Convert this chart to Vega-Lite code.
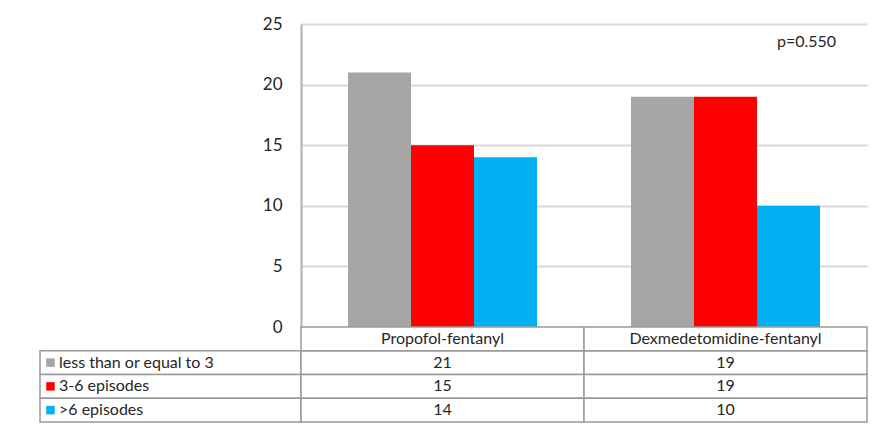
{
  "$schema": "https://vega.github.io/schema/vega-lite/v6.json",
  "background": "white",
  "padding": {"left": 39, "top": 15, "right": 12, "bottom": 6},
  "config": {
    "view": {"stroke": null},
    "font": "Lato",
    "text": {"font": "Lato", "color": "#262626"}
  },
  "datasets": {
    "counts": [
      {"treatment": "Propofol-fentanyl", "episodes": "less than or equal to 3", "patients": 21},
      {"treatment": "Propofol-fentanyl", "episodes": "3-6 episodes", "patients": 15},
      {"treatment": "Propofol-fentanyl", "episodes": ">6 episodes", "patients": 14},
      {"treatment": "Dexmedetomidine-fentanyl", "episodes": "less than or equal to 3", "patients": 19},
      {"treatment": "Dexmedetomidine-fentanyl", "episodes": "3-6 episodes", "patients": 19},
      {"treatment": "Dexmedetomidine-fentanyl", "episodes": ">6 episodes", "patients": 10}
    ]
  },
  "columns": 2,
  "spacing": 0,
  "bounds": "flush",
  "concat": [
    {
      "width": 261,
      "height": 303,
      "data": {"values": []},
      "mark": "text",
      "encoding": {}
    },
    {
      "width": 566,
      "height": 303,
      "layer": [
        {
          "data": {"name": "counts"},
          "mark": {"type": "bar"},
          "encoding": {
            "x": {
              "field": "treatment",
              "type": "nominal",
              "sort": ["Propofol-fentanyl", "Dexmedetomidine-fentanyl"],
              "scale": {"paddingInner": 0, "paddingOuter": 0},
              "axis": null
            },
            "xOffset": {
              "field": "episodes",
              "type": "nominal",
              "sort": ["less than or equal to 3", "3-6 episodes", ">6 episodes"],
              "scale": {"paddingInner": 0, "paddingOuter": 0.746}
            },
            "y": {
              "field": "patients",
              "type": "quantitative",
              "scale": {"domain": [0, 25], "nice": false},
              "axis": {
                "title": null,
                "values": [0, 5, 10, 15, 20, 25],
                "grid": true,
                "gridColor": "#d9d9d9",
                "gridWidth": 2,
                "domain": true,
                "domainColor": "#b0b0b0",
                "domainWidth": 2,
                "ticks": false,
                "labelPadding": 19,
                "labelFont": "Lato",
                "labelFontSize": 17,
                "labelColor": "#262626"
              }
            },
            "color": {
              "field": "episodes",
              "type": "nominal",
              "scale": {
                "domain": ["less than or equal to 3", "3-6 episodes", ">6 episodes"],
                "range": ["#a6a6a6", "#ff0000", "#00b0f0"]
              },
              "legend": null
            }
          }
        },
        {
          "data": {"values": [{"label": "p=0.550"}]},
          "mark": {"type": "text", "fontSize": 16, "dx": 81},
          "encoding": {
            "x": {"datum": "Dexmedetomidine-fentanyl"},
            "y": {"datum": 23.5},
            "text": {"field": "label"}
          }
        }
      ]
    },
    {
      "width": 261,
      "height": 95,
      "data": {"name": "counts"},
      "transform": [{"aggregate": [{"op": "count", "as": "n"}], "groupby": ["episodes"]}],
      "encoding": {
        "y": {
          "field": "episodes",
          "type": "nominal",
          "scale": {
            "domain": ["Treatment", "less than or equal to 3", "3-6 episodes", ">6 episodes"],
            "paddingInner": 0,
            "paddingOuter": 0
          },
          "axis": null
        }
      },
      "layer": [
        {
          "mark": {"type": "rect", "fill": "white", "stroke": "#9a9a9a", "strokeWidth": 1.5}
        },
        {
          "mark": {"type": "square", "size": 72, "opacity": 1, "filled": true, "x": 10.5},
          "encoding": {
            "color": {
              "field": "episodes",
              "type": "nominal",
              "scale": {
                "domain": ["less than or equal to 3", "3-6 episodes", ">6 episodes"],
                "range": ["#a6a6a6", "#ff0000", "#00b0f0"]
              },
              "legend": null
            }
          }
        },
        {
          "mark": {"type": "text", "align": "left", "x": 19, "fontSize": 16},
          "encoding": {"text": {"field": "episodes"}}
        }
      ]
    },
    {
      "width": 566,
      "height": 95,
      "data": {"name": "counts"},
      "encoding": {
        "x": {
          "field": "treatment",
          "type": "nominal",
          "sort": ["Propofol-fentanyl", "Dexmedetomidine-fentanyl"],
          "scale": {"paddingInner": 0, "paddingOuter": 0},
          "axis": null
        }
      },
      "layer": [
        {
          "mark": {"type": "rect", "fill": "white", "stroke": "#9a9a9a", "strokeWidth": 1.5},
          "encoding": {
            "y": {
              "field": "episodes",
              "type": "nominal",
              "scale": {
                "domain": ["Treatment", "less than or equal to 3", "3-6 episodes", ">6 episodes"],
                "paddingInner": 0,
                "paddingOuter": 0
              },
              "axis": null
            }
          }
        },
        {
          "mark": {"type": "text", "fontSize": 16},
          "encoding": {
            "y": {"field": "episodes", "type": "nominal"},
            "text": {"field": "patients"}
          }
        },
        {
          "transform": [{"aggregate": [{"op": "count", "as": "n"}], "groupby": ["treatment"]}],
          "mark": {"type": "rect", "fill": "white", "stroke": "#9a9a9a", "strokeWidth": 1.5},
          "encoding": {"y": {"datum": "Treatment"}}
        },
        {
          "transform": [{"aggregate": [{"op": "count", "as": "n"}], "groupby": ["treatment"]}],
          "mark": {"type": "text", "fontSize": 16},
          "encoding": {
            "y": {"datum": "Treatment"},
            "text": {"field": "treatment"}
          }
        }
      ]
    }
  ]
}
